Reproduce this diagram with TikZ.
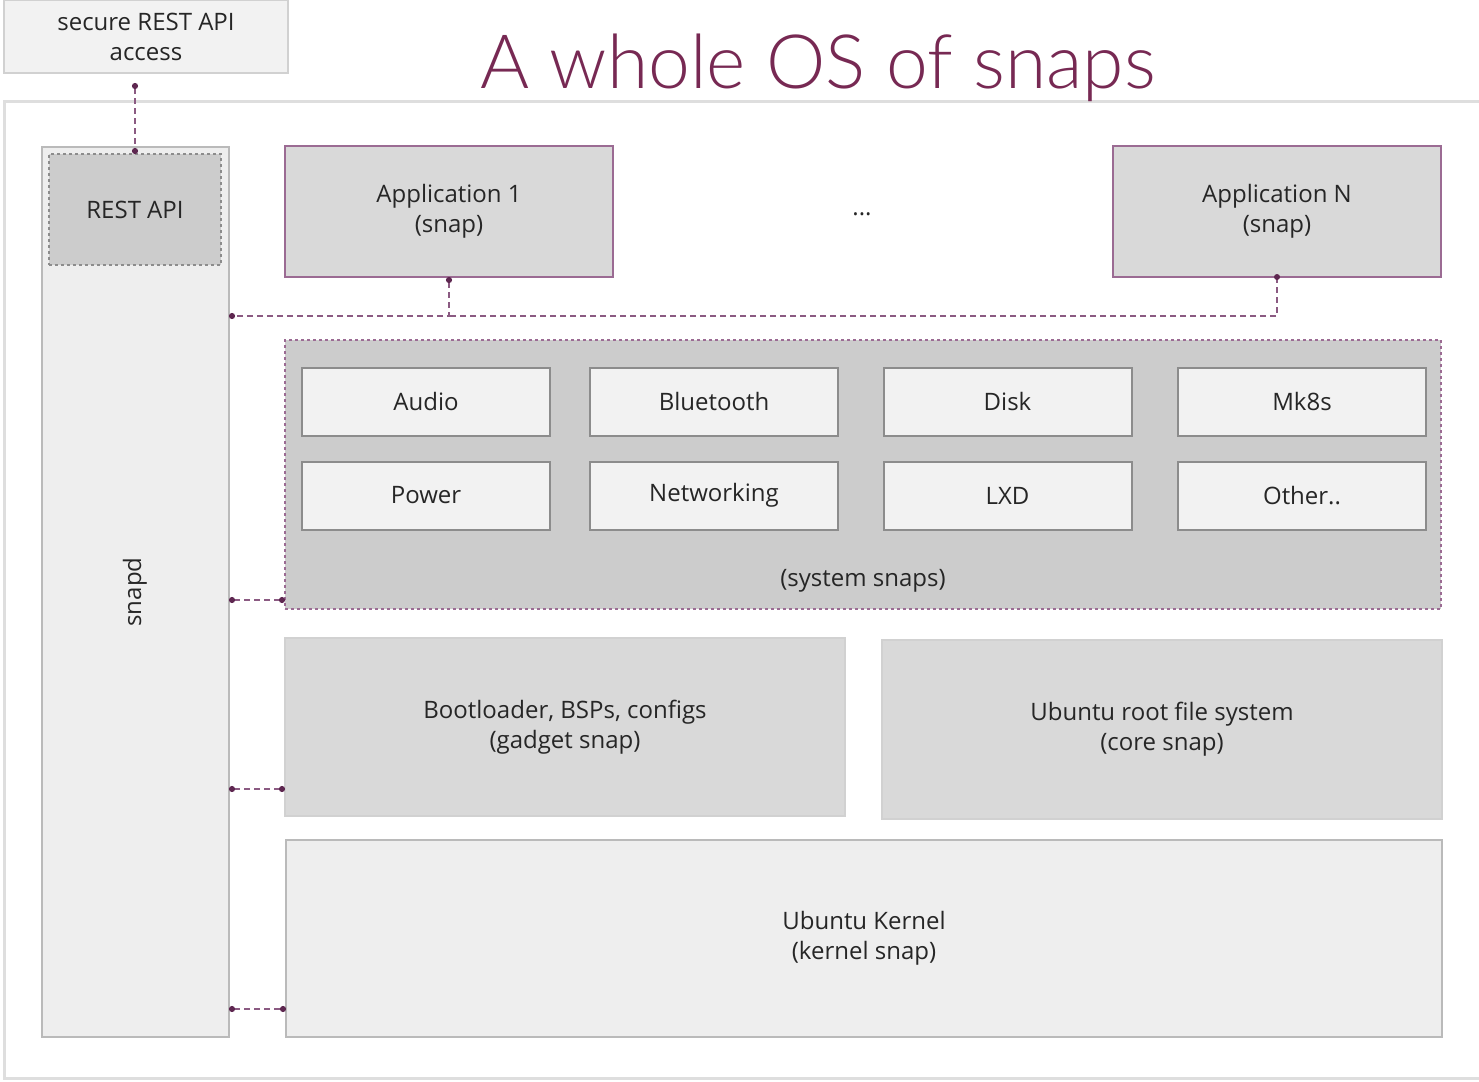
\documentclass[tikz,border=0pt]{standalone}
\usepackage{fontspec}
\setmainfont{Open Sans}
\newfontfamily\titlefont{Lato Light}
\usetikzlibrary{arrows.meta}
\definecolor{aubergine}{HTML}{772953}
\definecolor{linkcol}{HTML}{8B5A82}
\definecolor{dotcol}{HTML}{5E2750}
\definecolor{appedge}{HTML}{9B6B93}
\definecolor{darkfill}{HTML}{D9D9D9}
\definecolor{midfill}{HTML}{CCCCCC}
\definecolor{lightfill}{HTML}{EEEEEE}
\definecolor{paperfill}{HTML}{F2F2F2}
\definecolor{txt}{HTML}{262626}
\tikzset{
    box/.style={inner sep=0pt, outer sep=0pt, align=center, text=txt,
        font=\fontsize{24}{30}\selectfont},
    appbox/.style={box, draw=appedge, fill=darkfill, line width=2pt},
    layerbox/.style={box, draw=black!18, fill=darkfill, line width=2pt},
    basebox/.style={box, draw=black!27, fill=lightfill, line width=2pt},
    snapbox/.style={box, draw=black!45, fill=paperfill, line width=2pt,
        minimum width=248, minimum height=68},
    link/.style={draw=linkcol, line width=2pt, dash pattern=on 6pt off 4pt,
        {Circle[length=6pt,color=dotcol]}-{Circle[length=6pt,color=dotcol]}},
}
\begin{document}
\begin{tikzpicture}[x=1pt,y=-1pt]
        \useasboundingbox (0,0) rectangle (1479,1081);
        %% Frame and title
        \draw[black!13, line width=3pt] (1485,101) -- (4,101) -- (4,1078) -- (1485,1078);
        \node[anchor=base, text=aubergine, font=\titlefont\fontsize{75}{90}\selectfont] (title) at (818,88) {A whole OS of snaps};
        \node[box, draw=black!18, fill=paperfill, line width=2pt, minimum width=284, minimum height=73] (secure) at (146,36.5) {secure REST API\\access};
        %% snapd
        \node[basebox, minimum width=187, minimum height=890] (snapd) at (135.5,592) {};
        \node[box, rotate=90] (snapdlabel) at (135,592) {snapd};
        \node[box, draw=black!45, dashed, fill=midfill, line width=2pt, minimum width=172, minimum height=111] (restapi) at (135,209.5) {REST API};
        %% Applications
        \node[appbox, minimum width=328, minimum height=131] (app1) at (449,211.5) {Application 1\\(snap)};
        \node[box] (dots) at (862,214) {...};
        \node[appbox, minimum width=328, minimum height=131] (appN) at (1277,211.5) {Application N\\(snap)};
        %% System snaps
        \node[box, draw=appedge, dashed, fill=midfill, line width=2pt, minimum width=1156, minimum height=269] (sys) at (863,474.5) {};
        \node[box] (syslabel) at (863,581) {(system snaps)};
        \node[snapbox] (audio) at (426,401.5) {Audio};
        \node[snapbox] (bluetooth) at (714,401.5) {Bluetooth};
        \node[snapbox] (disk) at (1007.5,401.5) {Disk};
        \node[snapbox] (mk8s) at (1302,401.5) {Mk8s};
        \node[snapbox] (power) at (426,495.5) {Power};
        \node[snapbox] (networking) at (714,495.5) {Networking};
        \node[snapbox] (lxd) at (1007.5,495.5) {LXD};
        \node[snapbox] (other) at (1302,495.5) {Other..};
        %% Base layers
        \node[layerbox, minimum width=560, minimum height=178] (gadget) at (565,727) {Bootloader, BSPs, configs\\(gadget snap)};
        \node[layerbox, minimum width=560, minimum height=179] (core) at (1162,729.5) {Ubuntu root file system\\(core snap)};
        \node[basebox, minimum width=1156, minimum height=197] (kernel) at (864,938.5) {Ubuntu Kernel\\(kernel snap)};
        %% Links
        \coordinate (bus) at (0,316);
        \draw[link, shorten <=10pt] (secure.south -| restapi.north) -- (restapi.north);
        \draw[link] (app1.south) |- (snapd.east |- bus);
        \draw[link, -] (appN.south) |- (app1.south |- bus);
            \fill[dotcol] (appN.south) circle [radius=3pt];
        \draw[link] (snapd.east |- 0,600) -- (sys.west |- 0,600);
        \draw[link] (snapd.east |- 0,789) -- (gadget.west |- 0,789);
        \draw[link] (snapd.east |- 0,1009) -- (kernel.west |- 0,1009);
    \end{tikzpicture}
\end{document}
